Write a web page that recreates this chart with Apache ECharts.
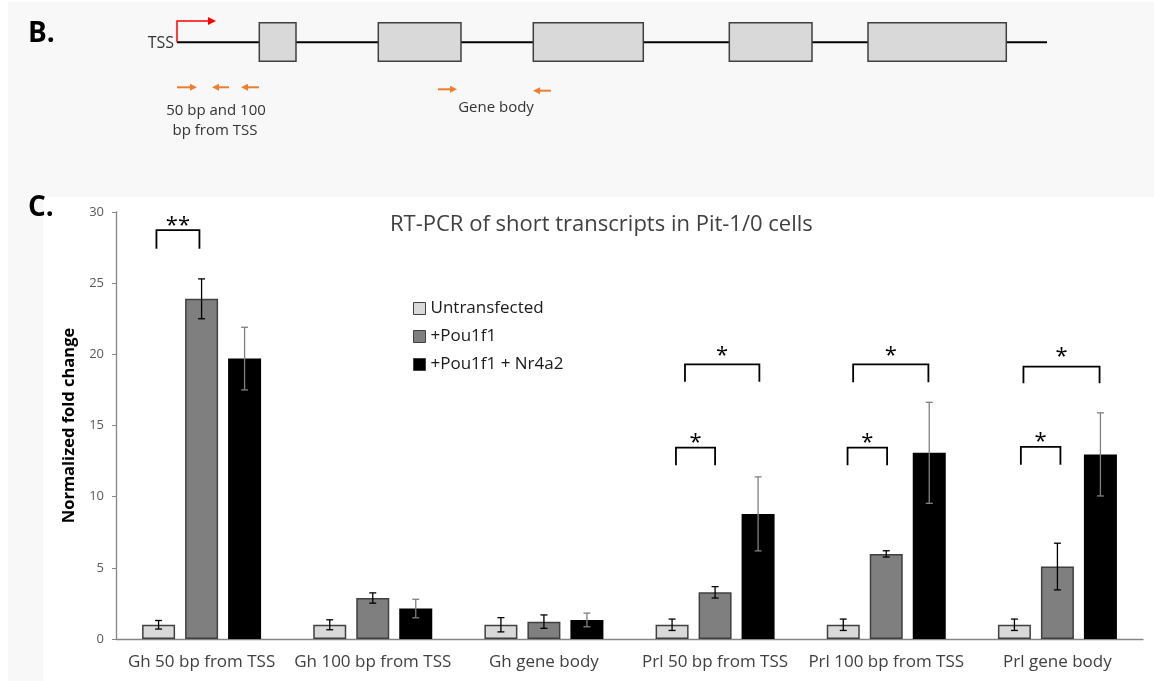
<!DOCTYPE html>
<html>
<head>
<meta charset="utf-8">
<script src="https://cdn.jsdelivr.net/npm/echarts@6/dist/echarts.min.js"></script>
<style>html,body{margin:0;padding:0;background:#fff}#c{width:1154px;height:681px}</style>
</head>
<body>
<div id="c"></div>
<script>
// ---------- Panel C data ----------
const categories = ['Gh 50 bp from TSS', 'Gh 100 bp from TSS', 'Gh gene body', 'Prl 50 bp from TSS', 'Prl 100 bp from TSS', 'Prl gene body'];
const seriesNames = ['Untransfected', '+Pou1f1', '+Pou1f1 + Nr4a2'];
const untransfected = [1.0, 1.0, 1.0, 1.0, 1.0, 1.0];
const untransfectedErr = [0.3, 0.35, 0.5, 0.4, 0.4, 0.4];
const pou1f1 = [23.9, 2.88, 1.22, 3.28, 5.98, 5.09];
const pou1f1Err = [1.4, 0.36, 0.47, 0.4, 0.22, 1.64];
const pou1f1Nr4a2 = [19.7, 2.14, 1.34, 8.79, 13.08, 12.97];
const pou1f1Nr4a2Err = [2.2, 0.65, 0.48, 2.6, 3.55, 2.92];
const yTicks = [0, 5, 10, 15, 20, 25, 30];

// significance brackets (category index, from/to in bar slots, top, leg end, star height)
const bracketCat = [0, 3, 3, 4, 4, 5, 5];
const bracketFrom = [-1.05, -0.91, -0.7, -0.9, -0.77, -0.85, -0.79];
const bracketTo = [-0.05, 0, 1.03, 0.02, 0.98, 0.07, 0.98];
const bracketTop = [28.72, 13.45, 19.3, 13.45, 19.3, 13.5, 19.13];
const bracketLeg = [27.42, 12.2, 18.07, 12.2, 18.03, 12.25, 17.96];
const bracketStarY = [29.35, 14.1, 20.2, 14.1, 20.2, 14.15, 20.1];
const bracketLabel = ['**', '*', '*', '*', '*', '*', '*'];

// ---------- Panel B schematic (diagram units) ----------
const geneLine = [[177, 42.3], [1047, 42.3]];
const exonStart = [259.3, 378.3, 533.3, 729.3, 868];
const exonEnd = [296, 461, 643.3, 812, 1006.3];
const exonTop = 22.7, exonBottom = 61.3;
const primerX1 = [177, 212, 241, 438, 533];
const primerX2 = [197, 229, 259, 457, 551];
const primerY = [87.3, 87.3, 87.3, 89.3, 90.7];
const primerDir = [1, -1, -1, 1, -1];
const tssArrow = [[177, 42.3], [177, 21], [216, 21]];

const FONT = 'Open Sans';
const BAR_W = 33, BAR_GAP = 10, SLOT = BAR_W + BAR_GAP;
const barColors = ['#d9d9d9', '#7f7f7f', '#000000'];
const barBorders = ['#404040', '#404040', '#000000'];
const errColors = ['#000000', '#000000', '#808080'];
const values = [untransfected, pou1f1, pou1f1Nr4a2];
const errors = [untransfectedErr, pou1f1Err, pou1f1Nr4a2Err];

function errRender(idx) {
  return function (params, api) {
    const cat = api.value(0);
    const lo = api.coord([cat, api.value(1)]);
    const hi = api.coord([cat, api.value(2)]);
    const x = lo[0] + (idx - 1) * SLOT;
    const cap = 3.5;
    const st = { stroke: errColors[idx], lineWidth: 1.3 };
    return { type: 'group', children: [
      { type: 'line', shape: { x1: x, y1: lo[1], x2: x, y2: hi[1] }, style: st },
      { type: 'line', shape: { x1: x - cap, y1: hi[1], x2: x + cap, y2: hi[1] }, style: st },
      { type: 'line', shape: { x1: x - cap, y1: lo[1], x2: x + cap, y2: lo[1] }, style: st }
    ] };
  };
}

const series = [];
values.forEach((v, i) => {
  series.push({
    name: seriesNames[i], type: 'bar', xAxisIndex: 0, yAxisIndex: 0,
    data: v, barWidth: BAR_W, barGap: (BAR_GAP / BAR_W * 100) + '%',
    itemStyle: { color: barColors[i], borderColor: barBorders[i], borderWidth: 1.5 },
    emphasis: { disabled: true }, z: 2
  });
});
values.forEach((v, i) => {
  series.push({
    type: 'custom', xAxisIndex: 0, yAxisIndex: 0, z: 4,
    data: v.map((val, k) => [k, val - errors[i][k], val + errors[i][k]]),
    encode: { x: 0, y: [1, 2] },
    renderItem: errRender(i), silent: true
  });
});
series.push({
  type: 'custom', xAxisIndex: 0, yAxisIndex: 0, z: 5, silent: true,
  data: bracketCat.map((c, k) => [c, bracketTop[k], bracketLeg[k], bracketStarY[k], bracketFrom[k], bracketTo[k]]),
  encode: { x: 0, y: [1, 2, 3] },
  renderItem: function (params, api) {
    const cat = api.value(0);
    const t = api.coord([cat, api.value(1)]);
    const l = api.coord([cat, api.value(2)]);
    const s = api.coord([cat, api.value(3)]);
    const x1 = t[0] + api.value(4) * SLOT, x2 = t[0] + api.value(5) * SLOT;
    return { type: 'group', children: [
      { type: 'polyline', shape: { points: [[x1, l[1]], [x1, t[1]], [x2, t[1]], [x2, l[1]]] },
        style: { stroke: '#000', lineWidth: 1.8, fill: null } },
      { type: 'text', x: (x1 + x2) / 2, y: s[1] + 4,
        style: { text: bracketLabel[params.dataIndex], fill: '#000', font: '22px "' + FONT + '"', align: 'center', verticalAlign: 'middle' } }
    ] };
  }
});
// Panel B schematic series
series.push({
  type: 'line', xAxisIndex: 1, yAxisIndex: 1, data: geneLine, symbol: 'none', silent: true,
  lineStyle: { color: '#000', width: 2 }, z: 2
});
series.push({
  type: 'custom', xAxisIndex: 1, yAxisIndex: 1, z: 3, silent: true,
  data: exonStart.map((s, k) => [s, exonTop, exonEnd[k], exonBottom]),
  encode: { x: [0, 2], y: [1, 3] },
  renderItem: function (params, api) {
    const a = api.coord([api.value(0), api.value(1)]);
    const b = api.coord([api.value(2), api.value(3)]);
    return { type: 'rect', shape: { x: a[0], y: a[1], width: b[0] - a[0], height: b[1] - a[1] },
      style: { fill: '#d9d9d9', stroke: '#404040', lineWidth: 1.5 } };
  }
});
series.push({
  type: 'custom', xAxisIndex: 1, yAxisIndex: 1, z: 3, silent: true,
  data: primerX1.map((x, k) => [x, primerY[k], primerX2[k], primerDir[k]]),
  encode: { x: [0, 2], y: 1 },
  renderItem: function (params, api) {
    const a = api.coord([api.value(0), api.value(1)]);
    const b = api.coord([api.value(2), api.value(1)]);
    const dir = api.value(3);
    const tip = dir > 0 ? b[0] : a[0];
    const base = tip - dir * 7;
    const col = '#ed7d31';
    return { type: 'group', children: [
      { type: 'line', shape: { x1: dir > 0 ? a[0] : base, y1: a[1], x2: dir > 0 ? base : b[0], y2: a[1] }, style: { stroke: col, lineWidth: 2 } },
      { type: 'polygon', shape: { points: [[tip, a[1]], [base, a[1] - 3.5], [base, a[1] + 3.5]] }, style: { fill: col } }
    ] };
  }
});
series.push({
  type: 'custom', xAxisIndex: 1, yAxisIndex: 1, z: 3, silent: true,
  data: [tssArrow.flat()],
  encode: { x: [0, 2, 4], y: [1, 3, 5] },
  renderItem: function (params, api) {
    const p0 = api.coord([api.value(0), api.value(1)]);
    const p1 = api.coord([api.value(2), api.value(3)]);
    const p2 = api.coord([api.value(4), api.value(5)]);
    const base = p2[0] - 8;
    return { type: 'group', children: [
      { type: 'polyline', shape: { points: [p0, p1, [base, p2[1]]] }, style: { stroke: '#ff0000', lineWidth: 1.5, fill: null } },
      { type: 'polygon', shape: { points: [[p2[0], p2[1]], [base, p2[1] - 4], [base, p2[1] + 4]] }, style: { fill: '#ff0000' } }
    ] };
  }
});

const option = {
  backgroundColor: '#ffffff',
  animation: false,
  textStyle: { fontFamily: FONT },
  title: {
    text: 'RT-PCR of short transcripts in Pit-1/0 cells', left: 385, top: 209,
    textStyle: { fontFamily: FONT, fontSize: 22, fontWeight: 'normal', color: '#404040' }
  },
  legend: {
    data: seriesNames, orient: 'vertical', left: 408, top: 295,
    itemWidth: 12, itemHeight: 12, itemGap: 11, icon: 'rect',
    itemStyle: { borderColor: '#404040', borderWidth: 1 },
    textStyle: { fontFamily: FONT, fontSize: 17, color: '#1a1a1a' }
  },
  grid: [
    { left: 116, top: 212, right: 11, bottom: 42, containLabel: false },
    { left: 0, top: 0, width: 1154, height: 170, containLabel: false }
  ],
  xAxis: [
    { type: 'category', data: categories, gridIndex: 0,
      axisLine: { lineStyle: { color: '#868686', width: 1.3 } },
      axisTick: { show: false },
      axisLabel: { fontFamily: FONT, fontSize: 17, color: '#404040', margin: 15, interval: 0 } },
    { type: 'value', gridIndex: 1, min: 0, max: 1154, show: false }
  ],
  yAxis: [
    { type: 'value', gridIndex: 0, min: yTicks[0], max: yTicks[yTicks.length - 1], interval: yTicks[1] - yTicks[0],
      name: 'Normalized fold change', nameLocation: 'middle', nameGap: 32, nameRotate: 90,
      nameTextStyle: { fontFamily: FONT, fontSize: 16.5, fontWeight: 'bold', color: '#000' },
      axisLine: { show: true, lineStyle: { color: '#868686', width: 1.3 } },
      axisTick: { show: true, length: 4, lineStyle: { color: '#868686' } },
      splitLine: { show: false },
      axisLabel: { fontFamily: FONT, fontSize: 13, color: '#595959', margin: 12 } },
    { type: 'value', gridIndex: 1, min: 0, max: 170, inverse: true, show: false }
  ],
  graphic: [
    { type: 'rect', z: -10, silent: true, shape: { x: 8, y: 2, width: 1146, height: 195 }, style: { fill: '#f8f8f8' } },
    { type: 'rect', z: -10, silent: true, shape: { x: 8, y: 197, width: 35, height: 484 }, style: { fill: '#f8f8f8' } },
    { type: 'text', x: 28, y: 20, style: { text: 'B.', font: 'bold 28px "' + FONT + '"', fill: '#000' } },
    { type: 'text', x: 28, y: 194, style: { text: 'C.', font: 'bold 28px "' + FONT + '"', fill: '#000' } },
    { type: 'text', x: 174, y: 43, style: { text: 'TSS', font: '16px "' + FONT + '"', fill: '#333', align: 'right', verticalAlign: 'middle' } },
    { type: 'text', x: 216, y: 111, style: { text: '50 bp and 100', font: '15px "' + FONT + '"', fill: '#333', align: 'center', verticalAlign: 'middle' } },
    { type: 'text', x: 215, y: 131, style: { text: 'bp from TSS', font: '15px "' + FONT + '"', fill: '#333', align: 'center', verticalAlign: 'middle' } },
    { type: 'text', x: 496, y: 108, style: { text: 'Gene body', font: '15px "' + FONT + '"', fill: '#333', align: 'center', verticalAlign: 'middle' } }
  ],
  series: series
};
const chart = echarts.init(document.getElementById('c'), null, { renderer: 'canvas' });
chart.setOption(option);
</script>
</body>
</html>
